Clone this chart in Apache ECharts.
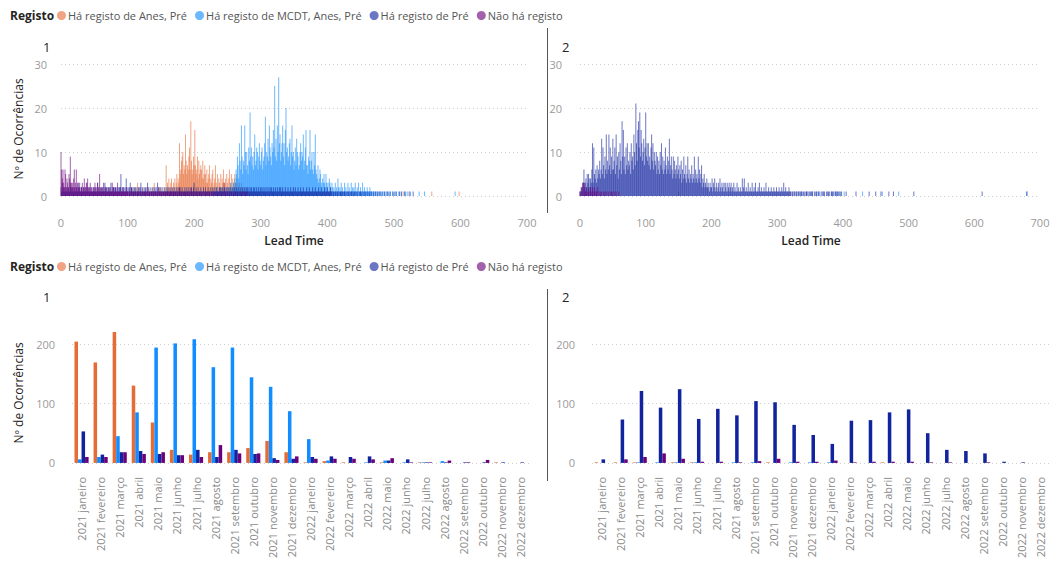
<!DOCTYPE html>
<html>
<head>
<meta charset="utf-8">
<script src="https://cdn.jsdelivr.net/npm/echarts@6/dist/echarts.min.js"></script>
<style>
  html, body { margin: 0; padding: 0; background: #ffffff; }
  #chart { width: 1055px; height: 561px; }
</style>
</head>
<body>
<div id="chart"></div>
<script>
const FONT = '"Segoe UI","Open Sans","Noto Sans",sans-serif';

const seriesNames = ['Há registo de Anes, Pré', 'Há registo de MCDT, Anes, Pré', 'Há registo de Pré', 'Não há registo'];
const seriesColors = ['#E66C37', '#118DFF', '#12239E', '#6B007B'];
const panelTitles = ['1', '2'];

const leadTicks = [0, 100, 200, 300, 400, 500, 600, 700];
const countTicksTop = [0, 10, 20, 30];
const countTicksBottom = [0, 100, 200];

const months = [
  '2021 janeiro', '2021 fevereiro', '2021 março', '2021 abril', '2021 maio', '2021 junho',
  '2021 julho', '2021 agosto', '2021 setembro', '2021 outubro', '2021 novembro', '2021 dezembro',
  '2022 janeiro', '2022 fevereiro', '2022 março', '2022 abril', '2022 maio', '2022 junho',
  '2022 julho', '2022 agosto', '2022 setembro', '2022 outubro', '2022 novembro', '2022 dezembro'
];

// ---- Occurrences per lead time (days), group 1 ----
// Each array holds daily counts starting at the given lead time.
const anes1Start = 100;
const anes1 = [
  1,0,0,1,0,2,0,0,1,0, 2,0,1,0,0,3,0,1,0,0, 1,0,0,2,0,1,0,0,1,0, 0,2,0,1,0,0,1,0,2,0,
  3,0,1,0,1,0,0,2,0,1, 2,0,1,0,0,1,2,0,7,1, 3,1,4,2,1,3,4,2,1,3, 2,4,1,3,5,2,4,3,12,5,
  6,8,9,10,5,7,6,14,8,5, 7,6,9,11,6,17,8,5,6,9, 7,15,7,5,6,9,4,8,5,6, 7,6,4,8,4,5,7,5,3,6,
  3,4,5,7,2,4,3,5,6,2, 3,4,7,2,3,5,2,4,3,2, 5,2,4,3,6,2,3,4,2,5, 3,2,4,6,2,3,5,2,4,3,
  2,5,3,2,4,2,3,1,3,2, 1,3,2,1,2,1,1,2,1,1, 2,1,0,1,1,0,1,0,1,0, 1,0,0,1,0,0,1,0,0,1
];
const anes1Sparse = [[305,1],[318,1],[332,1],[347,1],[362,1],[384,1],[420,1],[515,1],[557,1],[598,1]];

const mcdt1Start = 230;
const mcdt1 = [
  1,0,1,0,2,0,1,0,1,2, 0,1,2,0,1,0,2,1,0,1, 2,1,0,2,1,3,1,2,0,3, 2,4,3,6,5,9,7,4,12,8,
  6,16,9,5,8,7,16,10,6,10, 7,5,11,8,19,9,11,7,9,6, 10,14,7,8,11,10,6,9,12,8, 7,10,11,6,8,9,12,18,7,10,
  9,13,8,16,11,9,7,12,10,15, 11,25,9,13,8,16,10,27,12,14, 8,10,12,16,9,12,7,15,20,10, 11,8,9,12,13,7,10,16,9,10,
  6,8,11,7,13,10,9,6,7,10, 12,8,10,9,14,6,8,11,15,7, 7,5,9,8,15,6,8,10,6,5, 10,7,14,6,5,4,7,3,4,6,
  5,3,2,4,3,5,3,2,5,3, 2,3,1,4,3,2,1,3,2,1, 2,1,3,1,2,1,4,2,1,2, 1,3,1,2,1,1,3,1,2,1,
  1,3,1,2,1,1,3,1,2,1, 2,1,3,1,1,2,1,3,1,1, 2,1,1,3,1,1,2,1,1,1, 2,1,1,1,2,1,1,1,0,1,
  1,0,1,1,0,1,0,1,1,0, 1,0,0,1,0,1,0,0,1,0, 1,0,1,0,0,1,0,0,1,0, 0,1,0,0,1,0,0,0,1,0,
  0,0,1,0,0,0,1,0,0,0, 1,0,0,0,0,1,0,0,0,0
];
const mcdt1Sparse = [[538,1],[546,1],[592,1]];

const pre1Start = 0;
const pre1 = [
  2,1,3,1,2,1,2,1,1,2, 1,2,1,1,2,3,1,2,1,1, 2,1,1,2,1,1,3,1,2,1, 1,2,1,1,2,1,1,2,1,3,
  1,1,2,1,1,2,1,1,1,2, 1,1,2,1,1,3,1,2,1,1, 2,1,2,1,3,1,2,2,1,2, 1,2,1,2,1,3,1,2,1,2,
  2,1,2,1,2,1,2,1,2,2, 5,1,2,1,2,1,2,1,4,2, 1,2,1,2,3,1,2,1,2,1, 2,1,2,1,2,1,1,2,1,2,
  3,1,2,1,1,2,1,2,1,1, 3,1,2,1,1,2,1,1,2,1, 1,2,1,2,1,3,1,2,1,1, 2,1,1,2,1,1,2,1,1,2,
  1,2,1,1,2,1,1,2,1,1, 2,1,1,2,1,1,2,1,1,2, 1,1,2,1,1,1,2,1,1,2, 1,1,2,1,1,2,1,1,1,2,
  3,1,1,2,1,1,2,1,1,1, 2,1,1,1,2,1,1,2,1,1, 1,2,1,1,1,2,1,1,2,1, 1,2,1,1,2,1,1,1,2,1,
  2,1,1,2,1,1,2,1,1,2, 1,1,2,1,1,2,1,1,2,1, 1,2,1,1,2,1,1,2,1,1, 2,1,1,2,1,1,2,1,1,2,
  1,2,1,1,2,1,2,1,1,2, 1,2,1,1,2,1,1,2,1,1, 2,1,2,1,1,2,1,1,2,1, 1,2,1,1,2,1,2,1,1,2,
  1,1,2,1,1,2,1,1,2,1, 2,1,1,2,1,1,1,2,1,1, 1,2,1,1,1,2,1,1,1,2, 1,1,2,1,1,1,2,1,1,1,
  2,1,1,1,2,1,1,1,1,2, 1,1,1,2,1,1,1,1,2,1, 1,1,2,1,1,1,1,2,1,1, 1,2,1,1,1,1,2,1,1,1,
  2,1,1,1,1,2,1,1,0,1, 1,0,1,1,0,1,1,0,1,0, 1,1,0,1,0,1,1,0,1,0, 1,0,1,0,1,0,1,1,0,1,
  0,1,0,1,0,1,0,0,1,0, 1,0,1,0,0,1,0,1,0,0, 1,0,0,1,0,0,1,0,0,1, 0,0,1,0,0,1,0,0,0,1,
  0,0,1,0,0,0,1,0,0,0, 1,0,0,0,1,0,0,0,0,1, 0,0,0,1,0,0,0,0,1,0, 0,1,0,0,0,0,0,1,0,0,
  0,0,0,1,0,0,0,0,0,1
];
const pre1Sparse = [];

const noReg1Start = 0;
const noReg1 = [
  10,6,4,6,3,2,6,5,2,4, 3,2,5,4,9,3,2,3,2,4, 6,2,3,6,2,3,2,2,3,1, 2,2,3,1,2,4,2,1,3,2,
  4,2,1,2,3,1,2,1,2,1, 2,3,1,2,1,3,2,1,5,2, 1,2,1,2,1,1,3,1,2,1, 1,2,1,1,2,1,1,3,1,2,
  1,1,2,1,1,3,1,1,1,2, 1,1,1,2,1,1,1,1,2,1, 1,0,1,1,0,1,2,1,0,1, 1,0,1,1,0,1,1,2,0,1,
  1,0,1,1,0,1,1,1,0,2, 1,0,1,1,0,1,1,0,1,1, 0,1,1,0,1,1,0,2,1,0, 1,1,0,1,1,0,1,1,0,1,
  1,0,1,0,1,1,0,1,0,1, 0,1,1,0,1,0,1,0,2,1, 0,1,0,1,0,1,1,0,1,0, 1,0,1,0,1,0,2,1,0,1,
  0,1,0,1,1,0,1,0,1,0, 1,0,1,0,0,1,0,1,0,1, 0,1,0,1,0,0,1,0,1,0, 1,0,0,1,0,1,0,1,0,0,
  1,0,1,0,0,3,0,1,0,0, 1,0,0,1,0,0,1,0,0,1, 0,0,1,0,0,1,0,0,0,1, 0,0,1,0,0,0,1,0,0,1
];
const noReg1Sparse = [];

// ---- Occurrences per lead time (days), group 2 ----
const anes2Sparse = [[8,1],[25,1],[48,1],[150,1]];
const mcdt2Sparse = [[335,1],[345,1],[352,1],[362,1],[370,1],[383,1],[388,1],[395,1],[402,1],[430,1],[460,1],[485,1],[680,1]];

const pre2Start = 0;
const pre2 = [
  1,1,2,1,2,3,6,2,3,4, 2,5,3,5,4,2,4,3,6,12, 3,11,5,4,6,3,7,4,6,5, 8,4,6,13,5,11,7,4,9,6,
  14,5,8,6,14,7,11,5,9,6, 13,6,8,11,5,14,7,9,4,10, 6,12,8,5,17,9,15,6,9,5, 11,7,12,6,8,7,10,5,12,8,
  9,6,14,10,7,21,12,8,15,17, 11,19,9,15,12,8,10,13,7,11, 19,9,12,8,12,7,9,6,11,14, 8,12,6,10,8,7,10,5,9,6,
  8,5,10,7,12,6,9,5,8,6, 11,7,5,9,6,8,13,5,7,9, 6,4,9,5,8,6,4,7,5,9, 6,4,7,5,8,3,6,4,9,5,
  4,7,3,5,9,4,6,3,5,4, 7,3,5,4,9,3,6,4,5,3, 9,4,6,3,5,7,2,4,3,5, 2,3,2,4,2,3,2,1,3,2,
  2,4,1,3,2,4,1,2,3,1, 2,3,1,4,2,1,3,2,1,3, 1,3,2,1,3,1,2,3,1,2, 3,1,2,1,3,1,2,1,1,3,
  1,2,1,1,2,1,1,4,1,2, 4,1,1,2,1,1,3,1,1,2, 1,1,3,1,1,2,1,3,1,1, 1,2,1,3,1,1,2,1,1,1,
  2,1,1,3,1,1,1,2,1,1, 1,2,1,1,1,2,1,1,1,2, 1,1,1,2,1,1,1,2,1,1, 3,1,1,2,1,1,1,1,2,1,
  1,1,0,1,1,0,1,1,0,1, 1,0,1,1,0,1,0,1,1,0, 1,0,1,0,1,1,0,1,0,1, 0,1,0,1,1,0,0,1,0,1,
  1,0,0,1,0,1,0,0,1,0, 1,0,1,0,0,1,0,1,1,0, 1,0,0,1,1,0,1,0,0,1, 1,0,1,1,0,0,1,0,1,0
];
const pre2Sparse = [[405,1],[420,1],[440,1],[450,1],[458,1],[470,1],[477,1],[508,1],[612,1],[680,1]];

const noReg2Start = 0;
const noReg2 = [
  1,0,2,0,3,3,0,3,1,0, 2,1,0,2,1,0,2,1,0,2, 1,0,2,1,0,1,0,2,0,1, 0,1,0,1,0,0,1,0,1,0,
  1,0,0,1,0,0,1,0,0,1, 0,0,1,0,0,1,0,0,0,1
];

// ---- Occurrences per month ----
const anesMonth1  = [204,169,220,130,68,22,14,18,18,25,37,18,1,3,1,0,1,0,1,0,0,0,1,0];
const mcdtMonth1  = [6,10,45,85,194,201,208,161,194,144,128,87,40,4,0,1,4,1,1,3,0,0,0,0];
const preMonth1   = [53,14,18,20,15,13,22,10,22,15,8,7,10,11,10,11,4,6,1,1,1,1,1,1];
const noRegMonth1 = [10,10,18,15,18,13,10,30,16,16,5,11,7,7,7,6,8,1,1,4,1,5,0,0];

const anesMonth2  = [1,1,1,0,1,1,0,0,0,1,0,0,0,0,0,1,0,0,0,0,0,0,0,0];
const mcdtMonth2  = [0,0,1,1,1,1,0,1,1,0,1,1,1,0,0,0,0,0,0,0,0,0,0,0];
const preMonth2   = [6,73,121,93,124,74,91,80,104,102,64,47,32,71,72,85,90,50,22,20,16,2,1,0];
const noRegMonth2 = [0,6,10,16,7,2,2,1,3,7,2,2,4,1,2,2,2,1,1,0,1,0,0,0];

// Turns a daily count array (plus sparse extra points) into [lead, count] pairs.
function leadPoints(start, counts, extra) {
  const pts = [];
  counts.forEach((v, i) => { if (v > 0) pts.push([start + i, v]); });
  (extra || []).forEach(p => pts.push(p));
  return pts;
}

const leadData = [
  [leadPoints(anes1Start, anes1, anes1Sparse), leadPoints(mcdt1Start, mcdt1, mcdt1Sparse),
   leadPoints(pre1Start, pre1, pre1Sparse), leadPoints(noReg1Start, noReg1, noReg1Sparse)],
  [leadPoints(0, [], anes2Sparse), leadPoints(0, [], mcdt2Sparse),
   leadPoints(pre2Start, pre2, pre2Sparse), leadPoints(noReg2Start, noReg2, [])]
];
const monthData = [
  [anesMonth1, mcdtMonth1, preMonth1, noRegMonth1],
  [anesMonth2, mcdtMonth2, preMonth2, noRegMonth2]
];

const grids = [
  { left: 61,  top: 64,  width: 466, height: 132 },
  { left: 580, top: 64,  width: 460, height: 132 },
  { left: 72,  top: 344, width: 458, height: 119.5 },
  { left: 592, top: 344, width: 458, height: 119.5 }
];

const gridLine = { show: true, lineStyle: { color: '#CFCFCF', type: [1, 3], width: 1 } };
const tickLabel = { color: '#9A9A9A', fontSize: 11, fontFamily: FONT };

const xAxes = [], yAxes = [], series = [];

// Lead time histograms (top row)
[0, 1].forEach(g => {
  xAxes.push({
    gridIndex: g, type: 'value', min: leadTicks[0], max: leadTicks[leadTicks.length - 1], interval: 100,
    axisLine: { show: false }, axisTick: { show: false }, splitLine: { show: false },
    axisLabel: Object.assign({ margin: 21 }, tickLabel)
  });
  yAxes.push({
    gridIndex: g, type: 'value', min: countTicksTop[0], max: countTicksTop[countTicksTop.length - 1], interval: 10,
    axisLine: { show: false }, axisTick: { show: false }, splitLine: gridLine,
    axisLabel: Object.assign({ margin: g === 0 ? 14 : 18 }, tickLabel)
  });
  seriesNames.forEach((name, s) => {
    series.push({
      name, type: 'bar', xAxisIndex: g, yAxisIndex: g,
      data: leadData[g][s], barWidth: 0.8, barGap: '-100%',
      itemStyle: { color: seriesColors[s], opacity: 0.62 },
      emphasis: { disabled: true }, clip: false
    });
  });
});

// Monthly clustered columns (bottom row)
[0, 1].forEach(g => {
  xAxes.push({
    gridIndex: g + 2, type: 'category', data: months,
    axisLine: { show: false }, axisTick: { show: false },
    axisLabel: Object.assign({ rotate: 90, margin: 14, interval: 0 }, tickLabel, { color: '#8A8A8A' })
  });
  yAxes.push({
    gridIndex: g + 2, type: 'value', min: countTicksBottom[0], max: countTicksBottom[countTicksBottom.length - 1], interval: 100,
    axisLine: { show: false }, axisTick: { show: false }, splitLine: gridLine,
    axisLabel: Object.assign({ margin: 17 }, tickLabel)
  });
  seriesNames.forEach((name, s) => {
    series.push({
      name, type: 'bar', xAxisIndex: g + 2, yAxisIndex: g + 2,
      data: monthData[g][s], barGap: '0%', barCategoryGap: '26%',
      itemStyle: { color: seriesColors[s] },
      emphasis: { disabled: true }, clip: false
    });
  });
});

const titleStyle = { fill: '#252423', fontFamily: FONT };
function label(x, y, text, extra) {
  return { type: 'text', x, y, style: Object.assign({ text, fontSize: 12, textVerticalAlign: 'middle' }, titleStyle, extra || {}) };
}
function vText(x, y, text) {
  return { type: 'text', x, y, rotation: Math.PI / 2,
    style: Object.assign({ text, fontSize: 12, textAlign: 'center', textVerticalAlign: 'middle' }, titleStyle) };
}

const graphics = [
  label(10, 15, 'Registo', { fontWeight: 'bold' }),
  label(10, 266, 'Registo', { fontWeight: 'bold' }),
  label(43, 47, panelTitles[0], { fontSize: 13 }),
  label(562, 47, panelTitles[1], { fontSize: 13 }),
  label(43, 297, panelTitles[0], { fontSize: 13 }),
  label(562, 297, panelTitles[1], { fontSize: 13 }),
  vText(18, 129, 'Nº de Ocorrências'),
  vText(18, 393, 'Nº de Ocorrências'),
  label(294, 240, 'Lead Time', { textAlign: 'center', fontWeight: 600 }),
  label(811, 240, 'Lead Time', { textAlign: 'center', fontWeight: 600 }),
  { type: 'line', shape: { x1: 547.5, y1: 28, x2: 547.5, y2: 213 }, style: { stroke: '#555', lineWidth: 1 } },
  { type: 'line', shape: { x1: 547.5, y1: 289, x2: 547.5, y2: 481 }, style: { stroke: '#555', lineWidth: 1 } }
];

const legendBase = {
  data: seriesNames, icon: 'circle', itemWidth: 9, itemHeight: 9, itemGap: 8, left: 57,
  textStyle: { color: '#555', fontSize: 11, fontFamily: FONT, padding: [0, 0, 0, -3] },
  padding: 0
};

const chart = echarts.init(document.getElementById('chart'), null, { renderer: 'svg' });
chart.setOption({
  animation: false,
  color: seriesColors,
  textStyle: { fontFamily: FONT },
  legend: [
    Object.assign({ top: 10 }, legendBase),
    Object.assign({ top: 261 }, legendBase)
  ],
  grid: grids,
  xAxis: xAxes,
  yAxis: yAxes,
  series,
  graphic: graphics
});
</script>
</body>
</html>
